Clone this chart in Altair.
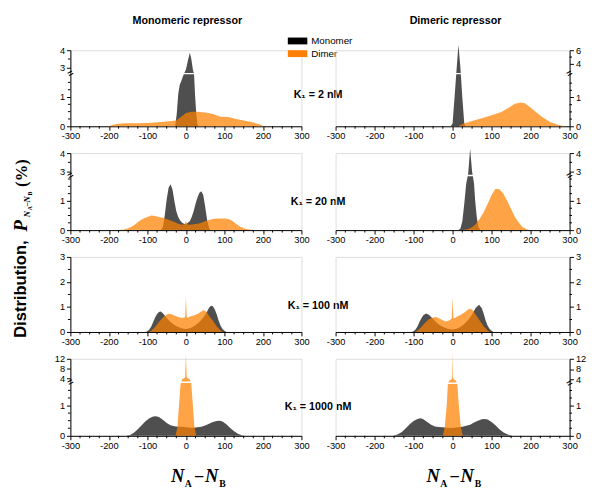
import altair as alt
import pandas as pd

# ---------------- data ----------------
X_MAJOR = [-300, -200, -100, 0, 100, 200, 300]
X_MINOR = [v for v in range(-300, 301, 25) if v % 100 != 0]

COL_TITLES = ["Monomeric repressor", "Dimeric repressor"]
K_LABELS = ["K\u2081 = 2 nM", "K\u2081 = 20 nM", "K\u2081 = 100 nM", "K\u2081 = 1000 nM"]
LEGEND_LABELS = ["Monomer", "Dimer"]
MONO_COLOR = "#303030"
DIMER_COLOR = "#ff8000"

# Row 1 : K1 = 2 nM
R1L_MONO_X = [-28, -24, -20, -16, -12, -8, -5, 0, 5, 10, 14, 18, 21, 24, 27, 30, 32]
R1L_MONO_Y = [0, 0.4, 1.1, 1.42, 1.55, 1.7, 1.8, 2.9, 3.4, 3.85, 3.5, 2.9, 1.8, 1.0, 0.4, 0.05, 0]
R1L_DIM_X = [-202, -195, -180, -160, -120, -80, -50, -25, -10, 0, 15, 30, 50, 70, 90, 110, 130, 150, 170, 190, 200, 202]
R1L_DIM_Y = [0, 0.03, 0.08, 0.1, 0.1, 0.13, 0.16, 0.2, 0.35, 0.45, 0.5, 0.5, 0.47, 0.42, 0.33, 0.32, 0.25, 0.2, 0.15, 0.07, 0.02, 0]
R1R_MONO_X = [-5, 0, 5, 10, 15, 20, 25, 30, 33]
R1R_MONO_Y = [0, 0.1, 1.0, 3.0, 6.85, 3.5, 1.0, 0.1, 0]
R1R_DIM_X = [15, 25, 50, 75, 100, 125, 145, 160, 175, 185, 200, 215, 230, 250, 270, 285, 290]
R1R_DIM_Y = [0, 0.08, 0.18, 0.28, 0.38, 0.5, 0.65, 0.78, 0.83, 0.8, 0.65, 0.48, 0.32, 0.15, 0.05, 0.01, 0]

# Row 2 : K1 = 20 nM
R2L_MONO_X = [-65, -60, -55, -50, -45, -40, -35, -30, -25, -20, -15, -10, -5, 0, 5, 10, 15, 20, 25, 30, 35, 40, 45, 50, 55, 60, 63]
R2L_MONO_Y = [0, 0.1, 0.5, 1.05, 1.45, 1.57, 1.4, 1.0, 0.65, 0.45, 0.33, 0.25, 0.22, 0.2, 0.25, 0.3, 0.45, 0.65, 0.9, 1.12, 1.28, 1.33, 1.2, 0.8, 0.35, 0.08, 0]
R2L_DIM_X = [-175, -160, -150, -140, -130, -120, -110, -100, -90, -80, -70, -60, -50, -40, -30, -20, -10, -3, 0, 3, 10, 20, 30, 40, 50, 60, 70, 80, 90, 100, 110, 120, 130, 140, 150, 160, 170, 175]
R2L_DIM_Y = [0, 0.02, 0.06, 0.12, 0.22, 0.32, 0.4, 0.45, 0.5, 0.48, 0.45, 0.42, 0.38, 0.33, 0.28, 0.22, 0.18, 0.2, 0.32, 0.2, 0.18, 0.2, 0.22, 0.25, 0.3, 0.35, 0.38, 0.4, 0.4, 0.4, 0.38, 0.32, 0.22, 0.12, 0.06, 0.03, 0.01, 0]
R2R_MONO_X = [15, 20, 25, 30, 35, 40, 45, 50, 55, 58, 62, 66, 70, 72]
R2R_MONO_Y = [0, 0.05, 0.3, 0.9, 1.6, 2.9, 4.25, 3.0, 1.6, 1.0, 0.45, 0.12, 0.02, 0]
R2R_DIM_X = [25, 40, 50, 60, 70, 80, 90, 100, 110, 120, 130, 140, 150, 160, 170, 180, 190, 197]
R2R_DIM_Y = [0, 0.04, 0.1, 0.22, 0.4, 0.62, 0.9, 1.2, 1.42, 1.4, 1.25, 1.0, 0.72, 0.45, 0.25, 0.1, 0.03, 0]

# Row 3 : K1 = 100 nM
R3L_MONO_X = [-105, -100, -95, -90, -85, -80, -75, -70, -65, -60, -55, -50, -45, -40, -30, -20, -10, 0, 10, 20, 30, 40, 50, 55, 60, 65, 70, 75, 80, 85, 90, 95, 100, 105]
R3L_MONO_Y = [0, 0.03, 0.1, 0.22, 0.4, 0.58, 0.72, 0.8, 0.82, 0.75, 0.66, 0.56, 0.48, 0.4, 0.28, 0.2, 0.14, 0.12, 0.15, 0.22, 0.33, 0.48, 0.68, 0.82, 0.97, 1.05, 1.03, 0.9, 0.7, 0.45, 0.25, 0.12, 0.05, 0]
R3L_DIM_X = [-95, -90, -80, -70, -60, -50, -45, -40, -30, -20, -10, -5, -2, 0, 2, 5, 10, 20, 30, 40, 45, 50, 55, 60, 70, 80, 90, 95]
R3L_DIM_Y = [0, 0.05, 0.2, 0.4, 0.58, 0.7, 0.73, 0.72, 0.66, 0.6, 0.56, 0.58, 0.6, 1.4, 0.62, 0.56, 0.62, 0.66, 0.72, 0.82, 0.87, 0.85, 0.78, 0.65, 0.45, 0.22, 0.06, 0]
R3R_MONO_X = [-105, -100, -95, -90, -85, -80, -75, -68, -60, -55, -50, -45, -40, -30, -20, -10, 0, 10, 20, 30, 40, 50, 55, 60, 68, 75, 80, 85, 90, 95, 100, 105]
R3R_MONO_Y = [0, 0.03, 0.1, 0.22, 0.4, 0.55, 0.67, 0.74, 0.68, 0.6, 0.52, 0.44, 0.36, 0.25, 0.17, 0.12, 0.1, 0.13, 0.2, 0.32, 0.48, 0.7, 0.85, 0.98, 1.09, 0.95, 0.72, 0.45, 0.25, 0.12, 0.05, 0]
R3R_DIM_X = [-95, -90, -80, -70, -60, -50, -43, -35, -25, -18, -10, -5, -2, 0, 2, 5, 10, 20, 30, 43, 50, 55, 60, 70, 80, 90, 95]
R3R_DIM_Y = [0, 0.05, 0.2, 0.38, 0.52, 0.58, 0.6, 0.55, 0.47, 0.42, 0.45, 0.5, 0.55, 1.4, 0.58, 0.55, 0.6, 0.68, 0.78, 0.93, 0.9, 0.8, 0.68, 0.45, 0.22, 0.06, 0]

# Row 4 : K1 = 1000 nM
R4L_MONO_X = [-155, -145, -135, -125, -115, -105, -95, -85, -78, -70, -60, -50, -40, -30, -20, -10, 0, 10, 20, 30, 40, 50, 60, 70, 80, 88, 95, 105, 115, 125, 135, 145, 152]
R4L_MONO_Y = [0, 0.03, 0.1, 0.22, 0.35, 0.48, 0.58, 0.64, 0.65, 0.62, 0.53, 0.42, 0.35, 0.32, 0.3, 0.3, 0.28, 0.27, 0.27, 0.28, 0.3, 0.34, 0.4, 0.46, 0.49, 0.5, 0.47, 0.38, 0.26, 0.15, 0.07, 0.02, 0]
R4L_DIM_X = [-27, -22, -18, -14, -10, -5, -2, 0, 2, 5, 10, 14, 18, 22, 27]
R4L_DIM_Y = [0, 0.3, 1.0, 1.7, 3.6, 4.0, 4.4, 14.0, 4.4, 4.0, 3.6, 1.7, 1.0, 0.3, 0]
R4R_MONO_X = [-152, -140, -130, -120, -110, -100, -90, -82, -75, -65, -55, -45, -35, -25, -15, 0, 15, 25, 35, 45, 55, 65, 75, 82, 90, 100, 110, 120, 130, 140, 150, 155]
R4R_MONO_Y = [0, 0.05, 0.13, 0.25, 0.38, 0.49, 0.56, 0.58, 0.55, 0.46, 0.37, 0.31, 0.29, 0.28, 0.27, 0.26, 0.28, 0.3, 0.33, 0.37, 0.44, 0.5, 0.55, 0.56, 0.54, 0.46, 0.35, 0.22, 0.12, 0.05, 0.01, 0]
R4R_DIM_X = [-25, -20, -15, -12, -8, -3, -1, 0, 1, 3, 8, 12, 16, 21, 26]
R4R_DIM_Y = [0, 0.3, 1.0, 1.74, 3.5, 3.9, 4.8, 14.5, 4.8, 3.9, 3.5, 1.74, 1.0, 0.3, 0]

W_LEFT = 237
W_RIGHT = 240


def txt(s, x, y, size, font="Liberation Sans", weight="bold", style="normal",
        angle=0, align="center", baseline="middle", color="black"):
    return alt.Chart(pd.DataFrame({"t": [s]})).mark_text(
        fontSize=size, font=font, fontWeight=weight, fontStyle=style,
        angle=angle, align=align, baseline=baseline, color=color
    ).encode(text="t:N", x=alt.value(x), y=alt.value(y))


def panel(mono_x, mono_y, dim_x, dim_y, h, ydomain, yrange, ymajor, yminor,
          orient, brk=None, extras=()):
    W = W_LEFT if orient == "left" else W_RIGHT
    mono = pd.DataFrame({"x": mono_x, "y": mono_y})
    dim = pd.DataFrame({"x": dim_x, "y": dim_y})
    yscale = alt.Scale(domain=ydomain, range=yrange, nice=False, zero=False)
    xscale = alt.Scale(domain=[-300, 300], nice=False, zero=False)
    common = dict(domainColor="black", tickColor="black", labelColor="black",
                  labelFont="Liberation Sans", labelFontSize=9.5, grid=False,
                  title=None, domainWidth=1, tickWidth=1, tickSize=4,
                  labelOverlap=False, labelExpr="'' + datum.value")
    xaxis = alt.Axis(values=X_MAJOR, labelFlush=False, labelPadding=1, **common)
    yaxis = alt.Axis(values=ymajor, orient=orient, labelPadding=2, **common)

    def X(f):
        return alt.X(f, scale=xscale, axis=xaxis)

    def Y(f):
        return alt.Y(f, scale=yscale, axis=yaxis)

    m = alt.Chart(mono).mark_area(color=MONO_COLOR, opacity=0.85).encode(
        x=X("x:Q"), y=Y("y:Q"))
    d = alt.Chart(dim).mark_area(color=DIMER_COLOR, opacity=0.72).encode(
        x=X("x:Q"), y=Y("y:Q"))
    # minor ticks on both axes
    xt = alt.Chart(pd.DataFrame({"v": X_MINOR})).mark_rule(color="black", strokeWidth=1).encode(
        x=X("v:Q"), y=alt.value(h), y2=alt.value(h + 2.5))
    x0, x1 = (0, -2.5) if orient == "left" else (W, W + 2.5)
    yt = alt.Chart(pd.DataFrame({"v": yminor})).mark_rule(color="black", strokeWidth=1).encode(
        y=Y("v:Q"), x=alt.value(x0), x2=alt.value(x1))
    layers = [m, d, xt, yt]
    if brk is not None:
        layers.append(alt.Chart(pd.DataFrame({"b": [brk]})).mark_rule(
            color="white", strokeWidth=1.5).encode(
            y=Y("b:Q"), x=alt.value(1), x2=alt.value(W - 1)))
        layers.append(alt.Chart(pd.DataFrame({"b": [brk]})).mark_text(
            text="=", angle=330, fontSize=10, fontWeight="bold", color="black").encode(
            y=Y("b:Q"), x=alt.value(0 if orient == "left" else W)))
    layers += list(extras)
    return alt.layer(*layers).properties(width=W, height=h)


# ---------- decorations (relative to panels) ----------
legend_layers = [
    alt.Chart(pd.DataFrame({"c": [LEGEND_LABELS[0]]})).mark_rect(color="black").encode(
        x=alt.value(223), x2=alt.value(243), y=alt.value(-13), y2=alt.value(-6)),
    alt.Chart(pd.DataFrame({"c": [LEGEND_LABELS[1]]})).mark_rect(color=DIMER_COLOR).encode(
        x=alt.value(223), x2=alt.value(243), y=alt.value(0), y2=alt.value(7)),
    txt(LEGEND_LABELS[0], 247, -9.5, 10, weight="normal", align="left"),
    txt(LEGEND_LABELS[1], 247, 3.5, 10, weight="normal", align="left"),
]
title_layers = [
    txt(COL_TITLES[0], 120, -30, 11),
    txt(COL_TITLES[1], 395, -30, 11),
]
ytitle_layers = [
    txt("Distribution,", -51, 245, 17, angle=270),
    txt("P", -50, 180, 19, font="Liberation Serif", style="italic", angle=270),
    txt("N", -44, 168, 9, font="Liberation Serif", style="italic", angle=270),
    txt("A", -41, 162, 6, font="Liberation Serif", angle=270),
    txt("\u2013", -44, 158, 8, font="Liberation Serif", angle=270),
    txt("N", -44, 153, 9, font="Liberation Serif", style="italic", angle=270),
    txt("B", -41, 147, 6, font="Liberation Serif", angle=270),
    txt("(%)", -50, 126, 17, font="Liberation Serif", angle=270),
]


def xtitle(x0, y0):
    return [
        txt("N", x0, y0, 19, font="Liberation Serif", style="italic", baseline="alphabetic"),
        txt("A", x0 + 11, y0 + 5, 10, font="Liberation Serif", baseline="alphabetic"),
        txt("\u2013", x0 + 22, y0 - 1, 17, font="Liberation Serif", baseline="alphabetic"),
        txt("N", x0 + 35, y0, 19, font="Liberation Serif", style="italic", baseline="alphabetic"),
        txt("B", x0 + 46, y0 + 5, 10, font="Liberation Serif", baseline="alphabetic"),
    ]


def klabel(i, y):
    return txt(K_LABELS[i], 254, y, 11)


LOW4 = [0.25, 0.5, 0.75, 1.25, 1.5]

p1l = panel(R1L_MONO_X, R1L_MONO_Y, R1L_DIM_X, R1L_DIM_Y, 78,
            [0, 1.8, 2.67, 4], [78, 24, 24, 0], [0, 1, 3, 4], LOW4 + [3.5], "left", brk=1.8,
            extras=legend_layers + title_layers + ytitle_layers + [klabel(0, 46)])
p1r = panel(R1R_MONO_X, R1R_MONO_Y, R1R_DIM_X, R1R_DIM_Y, 78,
            [0, 1.83, 2.57, 6], [78, 24, 24, 0], [0, 1, 4, 6], LOW4 + [5], "right", brk=1.83)
p2l = panel(R2L_MONO_X, R2L_MONO_Y, R2L_DIM_X, R2L_DIM_Y, 79,
            [0, 1.87, 2.79, 4], [79, 23, 23, 0], [0, 1, 3, 4], LOW4 + [1.75, 3.5], "left", brk=1.87,
            extras=[klabel(1, 50)])
p2r = panel(R2R_MONO_X, R2R_MONO_Y, R2R_DIM_X, R2R_DIM_Y, 79,
            [0, 1.87, 2.79, 4], [79, 23, 23, 0], [0, 1, 3, 4], LOW4 + [1.75, 3.5], "right", brk=1.87)
p3l = panel(R3L_MONO_X, R3L_MONO_Y, R3L_DIM_X, R3L_DIM_Y, 77,
            [0, 3], [77, 0], [0, 1, 2, 3], [0.5, 1.5, 2.5], "left",
            extras=[klabel(2, 50)])
p3r = panel(R3R_MONO_X, R3R_MONO_Y, R3R_DIM_X, R3R_DIM_Y, 77,
            [0, 3], [77, 0], [0, 1, 2, 3], [0.5, 1.5, 2.5], "right")
p4l = panel(R4L_MONO_X, R4L_MONO_Y, R4L_DIM_X, R4L_DIM_Y, 79,
            [0, 1.77, 2.4, 12], [79, 24, 24, 0], [0, 1, 4, 8, 12], LOW4, "left", brk=1.77,
            extras=[klabel(3, 50)] + xtitle(110, 126))
p4r = panel(R4R_MONO_X, R4R_MONO_Y, R4R_DIM_X, R4R_DIM_Y, 79,
            [0, 1.74, 2.5, 12], [79, 25, 25, 0], [0, 1, 4, 8, 12], LOW4, "right", brk=1.74,
            extras=xtitle(100, 126))

chart = alt.concat(p1l, p1r, p2l, p2r, p3l, p3r, p4l, p4r, columns=2,
                   spacing={"row": 27.5, "column": 35}, bounds="flush",
                   padding={"left": 3, "top": 0, "right": 5, "bottom": 5}
                   ).configure_view(stroke=None).configure(background="white")

chart.save("out.html", embed_options={"renderer": "svg", "actions": False})
